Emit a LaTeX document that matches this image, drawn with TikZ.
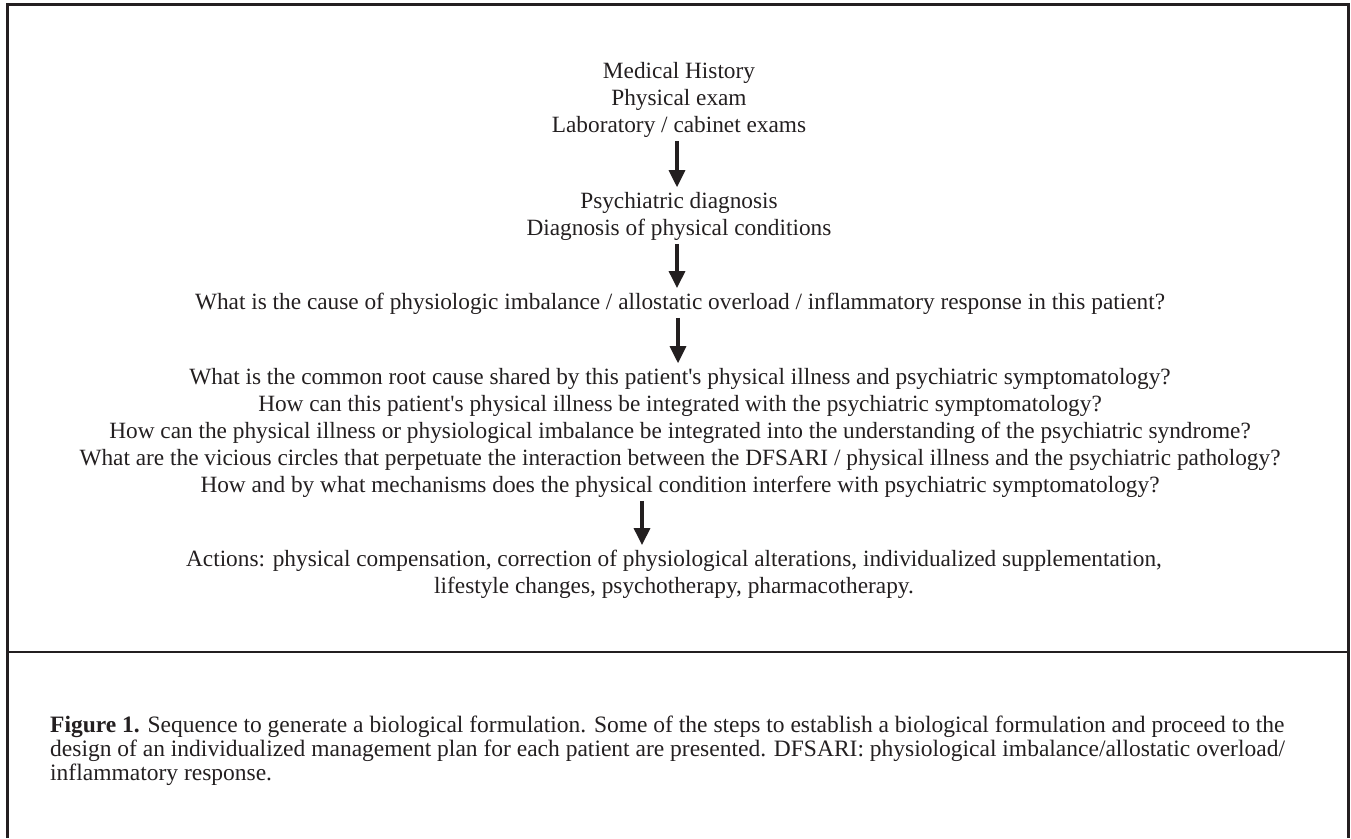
\documentclass[tikz,border=0pt]{standalone}
\usepackage{fontspec}
\setmainfont{Liberation Serif}
\usetikzlibrary{arrows.meta}
\definecolor{inkgray}{HTML}{231F20}
\tikzset{
  steptext/.style={align=center, text=inkgray, inner sep=0pt,
    font=\fontsize{23.3}{27}\selectfont},
  flowarrow/.style={draw=inkgray, line width=3.3pt, shorten <=3pt, shorten >=5pt,
    -{Triangle[width=16pt,length=17pt]}}
}

\begin{document}
\begin{tikzpicture}[x=1pt, y=-1pt]

			\useasboundingbox (0,0) rectangle (1351,838);
			\draw[inkgray, line width=3pt] (7,838) -- (7,4) -- (1348,4) -- (1348,838); % frame
			\draw[inkgray, line width=2.5pt] (7,652) -- (1348,652); % caption rule

			\node[steptext] (history) at (679,100) {Medical History\\Physical exam\\Laboratory / cabinet exams};
			\node[steptext] (diagnosis) at (679,216.5) {Psychiatric diagnosis\\Diagnosis of physical conditions};
			\node[steptext] (cause) at (680,304) {What is the cause of physiologic imbalance / allostatic overload / inflammatory response in this patient?};
			\node[steptext] (questions) at (680,433) {What is the common root cause shared by this patient\textquotesingle s physical illness and psychiatric symptomatology?\\
				How can this patient\textquotesingle s physical illness be integrated with the psychiatric symptomatology?\\
				How can the physical illness or physiological imbalance be integrated into the understanding of the psychiatric syndrome?\\
				What are the vicious circles that perpetuate the interaction between the DFSARI / physical illness and the psychiatric pathology?\\
				How and by what mechanisms does the physical condition interfere with psychiatric symptomatology?};
			\node[steptext] (actions) at (674,574.5) {Actions: physical compensation, correction of physiological alterations, individualized supplementation,\\lifestyle changes, psychotherapy, pharmacotherapy.};

			\draw[flowarrow] ([xshift=-2pt]history.south) -- ([xshift=-2pt]history.south |- diagnosis.north);
			\draw[flowarrow] ([xshift=-2pt]diagnosis.south) -- ([xshift=-2pt]diagnosis.south |- cause.north);
			\draw[flowarrow] ([xshift=-2pt]cause.south) -- ([xshift=-2pt]cause.south |- questions.north);
			\draw[flowarrow] ([xshift=-38pt]questions.south) -- ([xshift=-38pt]questions.south |- actions.north);

			\node[anchor=north west, align=left, text=inkgray, inner sep=0pt, font=\fontsize{23.5}{24}\selectfont] (caption) at (50,716)
				{\textbf{Figure 1.} Sequence to generate a biological formulation. Some of the steps to establish a biological formulation and proceed to the\\
				design of an individualized management plan for each patient are presented. DFSARI: physiological imbalance/allostatic overload/\\
				inflammatory response.};
		\end{tikzpicture}
\end{document}
